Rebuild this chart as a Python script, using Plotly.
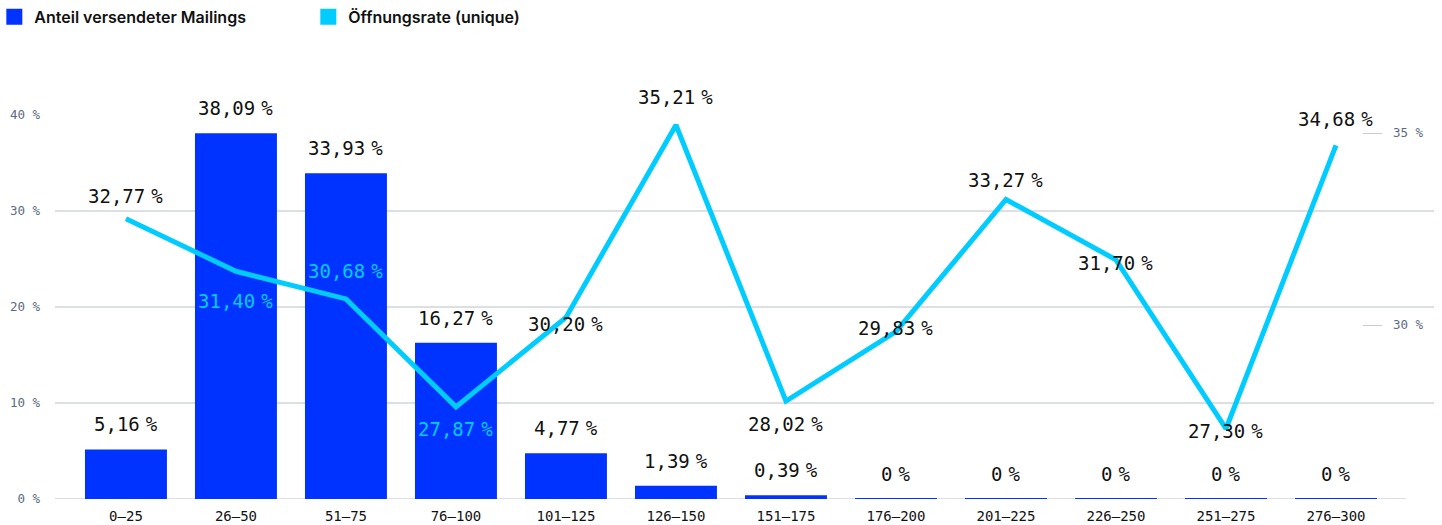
import plotly.graph_objects as go

# Versandgruppen (Anzahl Mailings je Empfänger)
categories = ["0–25", "26–50", "51–75", "76–100", "101–125", "126–150",
              "151–175", "176–200", "201–225", "226–250", "251–275", "276–300"]

# Anteil versendeter Mailings in %
share_sent = [5.16, 38.09, 33.93, 16.27, 4.77, 1.39, 0.39, 0, 0, 0, 0, 0]

# Öffnungsrate (unique) in %
open_rate = [32.77, 31.40, 30.68, 27.87, 30.20, 35.21, 28.02, 29.83, 33.27, 31.70, 27.30, 34.68]

left_ticks = [0, 10, 20, 30, 40]
right_ticks = [30, 35]

SERIES_BARS = "Anteil versendeter Mailings"
SERIES_LINE = "Öffnungsrate (unique)"

BAR_BLUE = "#0033FF"
LINE_CYAN = "#00CCFF"
TEXT = "#111111"
AXIS_GREY = "#5B6B7F"
GRID = "#DCDFE4"
MONO = "DejaVu Sans Mono"

# Label placement for the rate line (vertical offset in px, label sits on a bar)
line_label_shift = [23, -30, 28, -22, -7, 28, -23, 4, 19, -3, -2, 26]
line_label_on_bar = [False, True, True, True, False, False, False, False, False, False, False, False]

NARROW_SPACE = "<span style='font-size:10px'> </span>"


def fmt(v):
    num = "0" if v == 0 else f"{v:.2f}".replace(".", ",")
    return num + NARROW_SPACE + "%"


xs = list(range(len(categories)))

fig = go.Figure()

fig.add_trace(go.Bar(
    x=xs, y=share_sent, name=SERIES_BARS,
    marker=dict(color=BAR_BLUE,
                line=dict(color=BAR_BLUE, width=[2 if v == 0 else 0 for v in share_sent])),
    width=0.745, yaxis="y", showlegend=False,
))

fig.add_trace(go.Scatter(
    x=xs, y=open_rate, name=SERIES_LINE, mode="lines",
    line=dict(color=LINE_CYAN, width=5), yaxis="y2", showlegend=False,
))

# Legend entries with square swatches
for name, color in [(SERIES_BARS, BAR_BLUE), (SERIES_LINE, LINE_CYAN)]:
    fig.add_trace(go.Bar(
        x=[xs[0]], y=[None], name=name,
        marker=dict(color=color, line=dict(color=color, width=4)),
        yaxis="y", showlegend=True,
    ))

annotations = []
for i, v in enumerate(share_sent):
    annotations.append(dict(
        x=xs[i], y=v, xref="x", yref="y", text=fmt(v), showarrow=False,
        yshift=25, font=dict(family=MONO, size=19, color=TEXT),
    ))
for i, v in enumerate(open_rate):
    annotations.append(dict(
        x=xs[i], y=v, xref="x", yref="y2", text=fmt(v), showarrow=False,
        yshift=line_label_shift[i],
        font=dict(family=MONO, size=19, color=LINE_CYAN if line_label_on_bar[i] else TEXT),
    ))

fig.update_layout(
    width=1442, height=525,
    margin=dict(l=55, r=8, t=115, b=26, autoexpand=False),
    paper_bgcolor="white", plot_bgcolor="white",
    barmode="overlay",
    showlegend=True,
    legend=dict(
        orientation="h", x=-0.044, y=1.30, xanchor="left", yanchor="top",
        font=dict(family="Inter", size=16, color=TEXT, weight=600),
        entrywidth=269, entrywidthmode="pixels", traceorder="normal",
    ),
    xaxis=dict(
        range=[-0.645, 11.891], tickmode="array", tickvals=xs, ticktext=categories,
        showgrid=False, zeroline=False, showline=False, ticks="", automargin=False,
        tickfont=dict(family=MONO, size=14, color=TEXT), ticklabelstandoff=7,
    ),
    yaxis=dict(
        range=[0, 40], tickmode="array", tickvals=left_ticks,
        ticktext=[f"{t}\u202f%" for t in left_ticks], automargin=False,
        showgrid=True, gridcolor=GRID, gridwidth=1.5, zeroline=False,
        tickfont=dict(family=MONO, size=12.5, color=AXIS_GREY), ticklabelstandoff=14,
    ),
    yaxis2=dict(
        range=[25.47, 35.47], overlaying="y", side="right", anchor="free",
        position=(1382 - 55) / 1379, automargin=False,
        tickmode="array", tickvals=right_ticks, ticktext=[f"{t}\u202f%" for t in right_ticks],
        showgrid=False, zeroline=False, showline=False,
        ticks="inside", ticklen=19, tickcolor="#C8CDD4", tickwidth=1,
        tickfont=dict(family=MONO, size=12.5, color=AXIS_GREY), ticklabelstandoff=10,
    ),
    annotations=annotations,
    shapes=[dict(
        type="line", xref="x", yref="y", x0=-0.645, x1=11.636, y0=0, y1=0,
        line=dict(color=GRID, width=2), layer="below",
    )],
)

fig.write_html("out.html")
